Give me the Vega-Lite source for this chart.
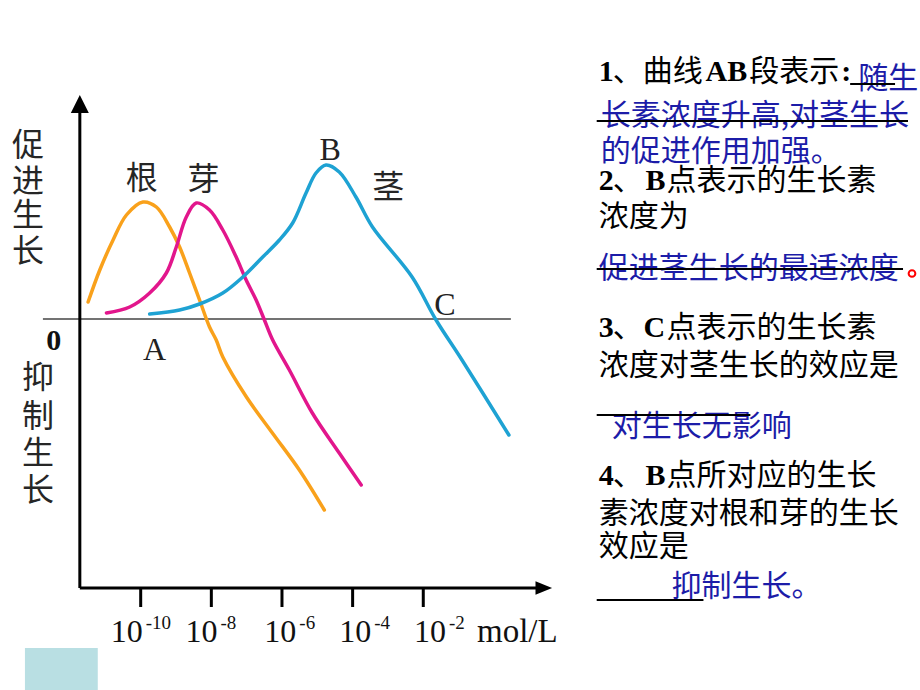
{
  "$schema": "https://vega.github.io/schema/vega-lite/v6.json",
  "width": 920,
  "height": 690,
  "padding": 0,
  "autosize": {"type": "fit", "contains": "padding"},
  "background": "white",
  "config": {"view": {"stroke": null}},
  "datasets": {
    "curves": [
      {"s": "根", "e": -11.489, "v": 0.17},
      {"s": "根", "e": -11.158, "v": 0.49},
      {"s": "根", "e": -10.782, "v": 0.79},
      {"s": "根", "e": -10.404, "v": 1.04},
      {"s": "根", "e": -9.935, "v": 1.17},
      {"s": "根", "e": -9.556, "v": 1.12},
      {"s": "根", "e": -9.181, "v": 0.92},
      {"s": "根", "e": -8.898, "v": 0.72},
      {"s": "根", "e": -8.616, "v": 0.46},
      {"s": "根", "e": -8.333, "v": 0.19},
      {"s": "根", "e": -8.051, "v": -0.08},
      {"s": "根", "e": -7.862, "v": -0.21},
      {"s": "根", "e": -7.675, "v": -0.38},
      {"s": "根", "e": -7.006, "v": -0.78},
      {"s": "根", "e": -6.271, "v": -1.14},
      {"s": "根", "e": -5.508, "v": -1.51},
      {"s": "根", "e": -4.802, "v": -1.91},
      {"s": "芽", "e": -10.969, "v": 0.06},
      {"s": "芽", "e": -10.311, "v": 0.12},
      {"s": "芽", "e": -9.746, "v": 0.26},
      {"s": "芽", "e": -9.274, "v": 0.46},
      {"s": "芽", "e": -8.992, "v": 0.72},
      {"s": "芽", "e": -8.709, "v": 1.02},
      {"s": "芽", "e": -8.427, "v": 1.16},
      {"s": "芽", "e": -8.051, "v": 1.09},
      {"s": "芽", "e": -7.675, "v": 0.89},
      {"s": "芽", "e": -7.297, "v": 0.62},
      {"s": "芽", "e": -7.014, "v": 0.39},
      {"s": "芽", "e": -6.732, "v": 0.19},
      {"s": "芽", "e": -6.497, "v": -0.01},
      {"s": "芽", "e": -6.263, "v": -0.21},
      {"s": "芽", "e": -5.791, "v": -0.51},
      {"s": "芽", "e": -5.141, "v": -0.94},
      {"s": "芽", "e": -4.379, "v": -1.34},
      {"s": "芽", "e": -3.757, "v": -1.66},
      {"s": "茎", "e": -9.746, "v": 0.05},
      {"s": "茎", "e": -8.898, "v": 0.09},
      {"s": "茎", "e": -8.333, "v": 0.15},
      {"s": "茎", "e": -7.675, "v": 0.26},
      {"s": "茎", "e": -7.110, "v": 0.42},
      {"s": "茎", "e": -6.545, "v": 0.62},
      {"s": "茎", "e": -6.073, "v": 0.79},
      {"s": "茎", "e": -5.698, "v": 0.96},
      {"s": "茎", "e": -5.319, "v": 1.26},
      {"s": "茎", "e": -5.037, "v": 1.46},
      {"s": "茎", "e": -4.754, "v": 1.54},
      {"s": "茎", "e": -4.379, "v": 1.47},
      {"s": "茎", "e": -3.907, "v": 1.22},
      {"s": "茎", "e": -3.438, "v": 0.92},
      {"s": "茎", "e": -2.316, "v": 0.42},
      {"s": "茎", "e": -1.638, "v": -0.01},
      {"s": "茎", "e": -0.904, "v": -0.41},
      {"s": "茎", "e": 0.424, "v": -1.16}
    ],
    "box": [{"x1": -13.277, "x2": -11.215, "y1": -3.29, "y2": -3.71}],
    "zero": [{"x1": -12.768, "x2": 0.480, "y": 0}],
    "axes": [
      {"x1": -11.723, "x2": -11.723, "y1": -2.69, "y2": 2.06},
      {"x1": -11.723, "x2": 1.271, "y1": -2.69, "y2": -2.69}
    ],
    "ticks": [
      {"x": -10, "y1": -2.69, "y2": -2.88},
      {"x": -8, "y1": -2.69, "y2": -2.88},
      {"x": -6, "y1": -2.69, "y2": -2.88},
      {"x": -4, "y1": -2.69, "y2": -2.88},
      {"x": -2, "y1": -2.69, "y2": -2.88}
    ],
    "arrowUp": [{"x": -11.723, "y": 2.15}],
    "arrowRight": [{"x": 1.412, "y": -2.69}],
    "ticklabels": [
      {"x": -9.944, "y": -3.23, "ye": -3.10, "b": "10", "p": "-10"},
      {"x": -7.825, "y": -3.23, "ye": -3.10, "b": "10", "p": "-8"},
      {"x": -5.593, "y": -3.23, "ye": -3.10, "b": "10", "p": "-6"},
      {"x": -3.475, "y": -3.23, "ye": -3.10, "b": "10", "p": "-4"},
      {"x": -1.356, "y": -3.23, "ye": -3.10, "b": "10", "p": "-2"}
    ],
    "unit": [{"x": -0.480, "y": -3.23, "t": "mol/L"}],
    "cjklabels": [
      {"x": -9.972, "y": 1.30, "t": "根"},
      {"x": -8.220, "y": 1.29, "t": "芽"},
      {"x": -2.994, "y": 1.21, "t": "茎"},
      {"x": -13.192, "y": 1.63, "t": "促"},
      {"x": -13.192, "y": 1.275, "t": "进"},
      {"x": -13.192, "y": 0.935, "t": "生"},
      {"x": -13.192, "y": 0.575, "t": "长"},
      {"x": -12.910, "y": -0.69, "t": "抑"},
      {"x": -12.910, "y": -1.08, "t": "制"},
      {"x": -12.910, "y": -1.45, "t": "生"},
      {"x": -12.910, "y": -1.82, "t": "长"}
    ],
    "letters": [
      {"x": -4.633, "y": 1.59, "t": "B"},
      {"x": -1.384, "y": 0.04, "t": "C"},
      {"x": -9.605, "y": -0.41, "t": "A"}
    ],
    "origin": [{"x": -12.458, "y": -0.31, "t": "0"}],
    "blackcjk": [
      {"x": 3.362, "y": 2.38, "t": "、曲线"},
      {"x": 7.232, "y": 2.38, "t": "段表示"},
      {"x": 3.362, "y": 1.29, "t": "、"},
      {"x": 4.887, "y": 1.29, "t": "点表示的生长素"},
      {"x": 2.966, "y": 0.93, "t": "浓度为"},
      {"x": 3.362, "y": -0.18, "t": "、"},
      {"x": 4.887, "y": -0.18, "t": "点表示的生长素"},
      {"x": 2.966, "y": -0.56, "t": "浓度对茎生长的效应是"},
      {"x": 3.362, "y": -1.66, "t": "、"},
      {"x": 4.887, "y": -1.66, "t": "点所对应的生长"},
      {"x": 2.966, "y": -2.04, "t": "素浓度对根和芽的生长"},
      {"x": 2.966, "y": -2.37, "t": "效应是"}
    ],
    "latin": [
      {"x": 2.966, "y": 2.38, "t": "1"},
      {"x": 5.989, "y": 2.38, "t": "AB"},
      {"x": 9.831, "y": 2.38, "t": ":"},
      {"x": 2.966, "y": 1.29, "t": "2"},
      {"x": 4.294, "y": 1.29, "t": "B"},
      {"x": 2.966, "y": -0.18, "t": "3"},
      {"x": 4.237, "y": -0.18, "t": "C"},
      {"x": 2.966, "y": -1.66, "t": "4"},
      {"x": 4.294, "y": -1.66, "t": "B"}
    ],
    "blue": [
      {"x": 10.311, "y": 2.31, "t": "随生"},
      {"x": 3.023, "y": 1.94, "t": "长素浓度升高,对茎生长"},
      {"x": 3.023, "y": 1.58, "t": "的促进作用加强。"},
      {"x": 2.966, "y": 0.41, "t": "促进茎生长的最适浓度"},
      {"x": 3.333, "y": -1.17, "t": "对生长无影响"},
      {"x": 5.028, "y": -2.77, "t": "抑制生长。"}
    ],
    "lines": [
      {"x1": 10.085, "x2": 11.356, "y": 2.35},
      {"x1": 2.910, "x2": 11.723, "y": 1.98},
      {"x1": 2.910, "x2": 11.582, "y": 0.50},
      {"x1": 2.910, "x2": 7.260, "y": -0.96},
      {"x1": 2.910, "x2": 5.932, "y": -2.81}
    ],
    "dot": [{"x": 11.836, "y": 0.455}]
  },
  "encoding": {
    "x": {"type": "quantitative", "scale": {"domain": [-13.983, 12.006], "nice": false, "zero": false}, "axis": null},
    "y": {"type": "quantitative", "scale": {"domain": [-3.71, 3.19], "nice": false, "zero": false}, "axis": null}
  },
  "layer": [
    {
      "data": {"name": "box"},
      "mark": {"type": "rect", "color": "#b9dfe3"},
      "encoding": {"x": {"field": "x1"}, "x2": {"field": "x2"}, "y": {"field": "y1"}, "y2": {"field": "y2"}}
    },
    {
      "data": {"name": "zero"},
      "mark": {"type": "rule", "color": "#444444", "strokeWidth": 1.5},
      "encoding": {"x": {"field": "x1"}, "x2": {"field": "x2"}, "y": {"field": "y"}}
    },
    {
      "data": {"name": "curves"},
      "mark": {"type": "line", "strokeWidth": 3.5, "interpolate": "catmull-rom", "strokeCap": "round"},
      "encoding": {
        "x": {"field": "e"},
        "y": {"field": "v"},
        "color": {"field": "s", "type": "nominal", "scale": {"domain": ["根", "芽", "茎"], "range": ["#f9a11b", "#e2168c", "#1ea2d3"]}, "legend": null}
      }
    },
    {
      "data": {"name": "axes"},
      "mark": {"type": "rule", "color": "black", "strokeWidth": 3},
      "encoding": {"x": {"field": "x1"}, "x2": {"field": "x2"}, "y": {"field": "y1"}, "y2": {"field": "y2"}}
    },
    {
      "data": {"name": "ticks"},
      "mark": {"type": "rule", "color": "black", "strokeWidth": 3},
      "encoding": {"x": {"field": "x"}, "y": {"field": "y1"}, "y2": {"field": "y2"}}
    },
    {
      "data": {"name": "arrowUp"},
      "mark": {"type": "point", "shape": "M0,-1L-1,1L1,1Z", "size": 324, "filled": true, "color": "black", "opacity": 1},
      "encoding": {"x": {"field": "x"}, "y": {"field": "y"}}
    },
    {
      "data": {"name": "arrowRight"},
      "mark": {"type": "point", "shape": "M1,0L-1,-0.8L-1,0.8Z", "size": 276, "filled": true, "color": "black", "opacity": 1},
      "encoding": {"x": {"field": "x"}, "y": {"field": "y"}}
    },
    {
      "data": {"name": "ticklabels"},
      "mark": {"type": "text", "align": "right", "baseline": "alphabetic", "font": "Liberation Serif", "fontSize": 32, "color": "#111"},
      "encoding": {"x": {"field": "x"}, "y": {"field": "y"}, "text": {"field": "b"}}
    },
    {
      "data": {"name": "ticklabels"},
      "mark": {"type": "text", "align": "left", "baseline": "alphabetic", "font": "Liberation Serif", "fontSize": 19, "dx": 3, "color": "#111"},
      "encoding": {"x": {"field": "x"}, "y": {"field": "ye"}, "text": {"field": "p"}}
    },
    {
      "data": {"name": "unit"},
      "mark": {"type": "text", "align": "left", "baseline": "alphabetic", "font": "Liberation Serif", "fontSize": 33, "color": "#111"},
      "encoding": {"x": {"field": "x"}, "y": {"field": "y"}, "text": {"field": "t"}}
    },
    {
      "data": {"name": "cjklabels"},
      "mark": {"type": "text", "align": "center", "baseline": "alphabetic", "font": "Noto Sans CJK SC", "fontSize": 32, "color": "#262626"},
      "encoding": {"x": {"field": "x"}, "y": {"field": "y"}, "text": {"field": "t"}}
    },
    {
      "data": {"name": "letters"},
      "mark": {"type": "text", "align": "center", "baseline": "alphabetic", "font": "Liberation Serif", "fontSize": 32, "color": "#222"},
      "encoding": {"x": {"field": "x"}, "y": {"field": "y"}, "text": {"field": "t"}}
    },
    {
      "data": {"name": "origin"},
      "mark": {"type": "text", "align": "center", "baseline": "alphabetic", "font": "Liberation Serif", "fontSize": 30, "fontWeight": "bold", "color": "#111"},
      "encoding": {"x": {"field": "x"}, "y": {"field": "y"}, "text": {"field": "t"}}
    },
    {
      "data": {"name": "blackcjk"},
      "mark": {"type": "text", "align": "left", "baseline": "alphabetic", "font": "Noto Sans CJK SC", "fontSize": 30, "color": "black"},
      "encoding": {"x": {"field": "x"}, "y": {"field": "y"}, "text": {"field": "t"}}
    },
    {
      "data": {"name": "latin"},
      "mark": {"type": "text", "align": "left", "baseline": "alphabetic", "font": "Liberation Serif", "fontSize": 30, "fontWeight": "bold", "color": "black"},
      "encoding": {"x": {"field": "x"}, "y": {"field": "y"}, "text": {"field": "t"}}
    },
    {
      "data": {"name": "blue"},
      "mark": {"type": "text", "align": "left", "baseline": "alphabetic", "font": "Noto Sans CJK SC", "fontSize": 30, "color": "#1c1ca8"},
      "encoding": {"x": {"field": "x"}, "y": {"field": "y"}, "text": {"field": "t"}}
    },
    {
      "data": {"name": "lines"},
      "mark": {"type": "rule", "color": "black", "strokeWidth": 2},
      "encoding": {"x": {"field": "x1"}, "x2": {"field": "x2"}, "y": {"field": "y"}}
    },
    {
      "data": {"name": "dot"},
      "mark": {"type": "point", "shape": "circle", "size": 45, "filled": false, "stroke": "#ff0000", "strokeWidth": 2, "opacity": 1},
      "encoding": {"x": {"field": "x"}, "y": {"field": "y"}}
    }
  ]
}
